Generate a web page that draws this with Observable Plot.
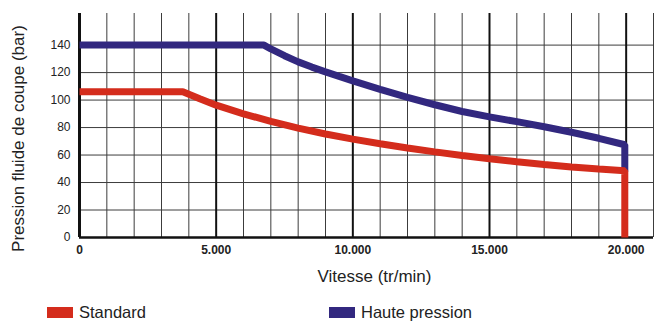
<!DOCTYPE html>
<html>
<head>
<meta charset="utf-8">
<script src="https://cdn.jsdelivr.net/npm/d3@7"></script>
<script src="https://cdn.jsdelivr.net/npm/@observablehq/plot@0.6"></script>
<style>
  html, body { margin: 0; padding: 0; background: #fff; }
  #wrap { position: relative; width: 662px; height: 324px; font-family: "Liberation Sans Narrow", "Arial Narrow", "Liberation Sans", sans-serif; }
  .leg { position: absolute; top: 303px; display: flex; align-items: center; font-size: 16.5px; color: #222; }
  .sw { width: 26px; height: 11px; margin-right: 6px; }
</style>
</head>
<body>
<div id="wrap"><div id="chart"></div></div>
<script>
// Data
const seriesNames = ["Standard", "Haute pression"];
const seriesColors = ["#d42c1c", "#32287f"];
const speedStd = [0, 3780, 4400, 5000, 6000, 7000, 8000, 9000, 10000, 11000, 12000, 13000, 14000, 15000, 16000, 17000, 18000, 19000, 19950, 19950];
const pressStd = [106, 106, 101, 96.3, 90, 84.5, 79.6, 75.3, 71.6, 68.2, 65.1, 62.3, 59.7, 57.3, 55.1, 53.1, 51.3, 49.8, 48.5, 0];
const speedHP = [0, 6750, 7000, 7500, 8000, 8500, 9000, 9500, 10000, 11000, 12000, 13000, 14000, 15000, 16000, 17000, 18000, 19000, 19950, 19950];
const pressHP = [140, 140, 137.2, 132.3, 127.8, 124, 120.5, 117.2, 114, 107.8, 102, 96.6, 91.7, 87.8, 84.3, 80.6, 76.6, 72.2, 67.5, 48];
const xTicks = [0, 5000, 10000, 15000, 20000];
const yTicks = [0, 20, 40, 60, 80, 100, 120, 140];
const xMinorGrid = d3.range(1000, 21001, 1000).filter(v => v % 5000 !== 0);
const xMajorGrid = [5000, 10000, 15000, 20000];
const yGrid = [20, 40, 60, 80, 100, 120, 140];
const xLabel = "Vitesse (tr/min)";
const yLabel = "Pression fluide de coupe (bar)";

const std = speedStd.map((s, i) => ({speed: s, press: pressStd[i]}));
const hp = speedHP.map((s, i) => ({speed: s, press: pressHP[i]}));

const loc = d3.formatLocale({decimal: ",", thousands: ".", grouping: [3], currency: ["", ""]});
const fmt = loc.format(",");
const font = '"Liberation Sans Narrow", "Arial Narrow", "Liberation Sans", sans-serif';

const chart = Plot.plot({
  width: 662,
  height: 296,
  marginLeft: 79,
  marginRight: 9,
  marginTop: 13,
  marginBottom: 59,
  style: {fontFamily: font, background: "#fff"},
  x: {domain: [0, 21000]},
  y: {domain: [0, 163]},
  marks: [
    Plot.ruleX(xMinorGrid, {stroke: "#3c3c3c", strokeWidth: 1}),
    Plot.ruleY(yGrid, {stroke: "#3c3c3c", strokeWidth: 1}),
    Plot.ruleX(xMajorGrid, {stroke: "#111", strokeWidth: 2}),
    Plot.ruleY([0], {stroke: "#111", strokeWidth: 2.5}),
    Plot.ruleX([0], {stroke: "#111", strokeWidth: 3}),
    Plot.line(hp, {x: "speed", y: "press", stroke: seriesColors[1], strokeWidth: 7, strokeLinejoin: "miter", strokeLinecap: "butt"}),
    Plot.line(std, {x: "speed", y: "press", stroke: seriesColors[0], strokeWidth: 7, strokeLinejoin: "miter", strokeLinecap: "butt"}),
    Plot.axisX(xTicks, {tickSize: 0, tickPadding: 8, tickFormat: d => d === 0 ? "0" : fmt(d), fontSize: 12, fontWeight: "bold", fill: "#222", label: null}),
    Plot.axisY(yTicks, {tickSize: 0, tickPadding: 9, fontSize: 12, fill: "#222", label: null}),
    Plot.text([xLabel], {x: () => 10500, y: () => 0, dx: 8, lineAnchor: "top", dy: 32, fontSize: 17, fill: "#222"}),
    Plot.text([yLabel], {x: () => 0, y: () => 72, dx: -61, rotate: -90, fontSize: 17, fill: "#222"})
  ]
});
document.getElementById("chart").appendChild(chart);

const wrap = document.getElementById("wrap");
const legPos = [47, 329];
seriesNames.forEach((name, i) => {
  const d = document.createElement("div");
  d.className = "leg";
  d.style.left = legPos[i] + "px";
  d.innerHTML = `<span class="sw" style="background:${seriesColors[i]}"></span><span>${name}</span>`;
  wrap.appendChild(d);
});
</script>
</body>
</html>
